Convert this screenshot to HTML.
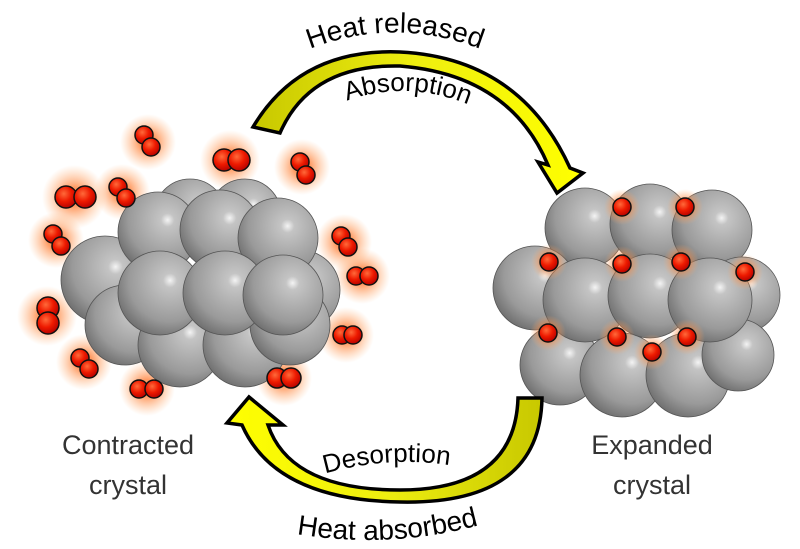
<!DOCTYPE html>
<html><head><meta charset="utf-8"><style>
html,body{margin:0;padding:0;background:#fff;width:800px;height:549px;overflow:hidden}
svg{display:block}
text{font-family:"Liberation Sans",sans-serif}
</style></head><body>
<svg width="800" height="549" viewBox="0 0 800 549" xmlns="http://www.w3.org/2000/svg">
<defs>
<radialGradient id="sph" cx="0.62" cy="0.35" r="0.7">
<stop offset="0" stop-color="#f4f4f4"/><stop offset="0.12" stop-color="#c4c4c4"/><stop offset="0.7" stop-color="#9a9a9a"/><stop offset="1" stop-color="#6e6e6e"/>
</radialGradient>
<radialGradient id="ox" cx="0.4" cy="0.35" r="0.7">
<stop offset="0" stop-color="#ff6a3a"/><stop offset="0.5" stop-color="#ee1a00"/><stop offset="1" stop-color="#b00000"/>
</radialGradient>
<radialGradient id="glow">
<stop offset="0.3" stop-color="#ff7a30" stop-opacity="0.75"/><stop offset="1" stop-color="#ffb070" stop-opacity="0"/>
</radialGradient>
<linearGradient id="y1" x1="0" y1="0" x2="1" y2="0">
<stop offset="0" stop-color="#c8c800"/><stop offset="0.5" stop-color="#eeee10"/><stop offset="1" stop-color="#ffff00"/>
</linearGradient>
<linearGradient id="y2" x1="1" y1="0" x2="0" y2="0">
<stop offset="0" stop-color="#c8c800"/><stop offset="0.5" stop-color="#eeee10"/><stop offset="1" stop-color="#ffff00"/>
</linearGradient>
<path id="tp1" d="M285,60 Q395,5 505,60"/>
<path id="tp2" d="M330,108 Q405,72 485,112"/>
<path id="tp3" d="M310,478 Q390,452 465,468"/>
<path id="tp4" d="M285,532 Q390,552 490,522"/>
</defs>

<!-- left glows -->
<g fill="url(#glow)">
<circle cx="148" cy="142" r="28"/><circle cx="230" cy="160" r="30"/><circle cx="302" cy="167" r="28"/>
<circle cx="74" cy="197" r="32"/><circle cx="122" cy="192" r="28"/><circle cx="56" cy="240" r="28"/>
<circle cx="47" cy="316" r="30"/><circle cx="84" cy="362" r="28"/><circle cx="147" cy="388" r="28"/>
<circle cx="284" cy="378" r="28"/><circle cx="344" cy="242" r="28"/><circle cx="362" cy="276" r="28"/><circle cx="346" cy="335" r="28"/>
</g>
<!-- left crystal -->
<g fill="url(#sph)" stroke="#555" stroke-width="0.8">
<circle cx="190" cy="215" r="36"/><circle cx="245" cy="215" r="36"/>
<circle cx="105" cy="280" r="44"/><circle cx="300" cy="290" r="40"/>
<circle cx="125" cy="325" r="40"/><circle cx="180" cy="345" r="42"/><circle cx="245" cy="345" r="42"/><circle cx="290" cy="325" r="40"/>
<circle cx="158" cy="232" r="40"/><circle cx="220" cy="230" r="40"/><circle cx="278" cy="238" r="40"/>
<circle cx="160" cy="293" r="42"/><circle cx="225" cy="293" r="42"/><circle cx="283" cy="295" r="40"/>
</g>
<!-- left molecules -->
<g fill="url(#ox)" stroke="#111" stroke-width="1.5">
<circle cx="144" cy="135" r="9"/><circle cx="151" cy="147" r="9"/>
<circle cx="224" cy="160" r="11"/><circle cx="239" cy="160" r="11"/>
<circle cx="300" cy="162" r="9"/><circle cx="306" cy="175" r="9"/>
<circle cx="66" cy="197" r="11"/><circle cx="85" cy="197" r="11"/>
<circle cx="118" cy="187" r="9"/><circle cx="126" cy="198" r="9"/>
<circle cx="53" cy="234" r="9"/><circle cx="61" cy="246" r="9"/>
<circle cx="48" cy="308" r="11"/><circle cx="48" cy="323" r="11"/>
<circle cx="80" cy="358" r="9"/><circle cx="89" cy="369" r="9"/>
<circle cx="139" cy="389" r="9"/><circle cx="154" cy="389" r="9"/>
<circle cx="277" cy="378" r="10"/><circle cx="291" cy="378" r="10"/>
<circle cx="341" cy="236" r="9"/><circle cx="348" cy="247" r="9"/>
<circle cx="356" cy="276" r="9"/><circle cx="369" cy="276" r="9"/>
<circle cx="342" cy="335" r="9"/><circle cx="353" cy="335" r="9"/>
</g>

<!-- right crystal -->
<g fill="url(#sph)" stroke="#555" stroke-width="0.8">
<circle cx="585" cy="228" r="40"/><circle cx="650" cy="224" r="40"/><circle cx="712" cy="230" r="40"/>
<circle cx="535" cy="288" r="42"/><circle cx="742" cy="295" r="38"/>
<circle cx="560" cy="365" r="40"/><circle cx="622" cy="375" r="42"/><circle cx="688" cy="375" r="42"/><circle cx="738" cy="355" r="36"/>
<circle cx="585" cy="300" r="42"/><circle cx="650" cy="296" r="42"/><circle cx="710" cy="300" r="42"/>
</g>
<g fill="url(#glow)">
<circle cx="622" cy="207" r="18"/><circle cx="685" cy="207" r="18"/><circle cx="549" cy="262" r="18"/><circle cx="622" cy="264" r="18"/>
<circle cx="681" cy="262" r="18"/><circle cx="745" cy="272" r="18"/><circle cx="548" cy="333" r="18"/><circle cx="617" cy="337" r="18"/>
<circle cx="652" cy="352" r="18"/><circle cx="687" cy="337" r="18"/>
</g>
<g fill="url(#ox)" stroke="#111" stroke-width="1.5">
<circle cx="622" cy="207" r="9"/><circle cx="685" cy="207" r="9"/><circle cx="549" cy="262" r="9"/><circle cx="622" cy="264" r="9"/>
<circle cx="681" cy="262" r="9"/><circle cx="745" cy="272" r="9"/><circle cx="548" cy="333" r="9"/><circle cx="617" cy="337" r="9"/>
<circle cx="652" cy="352" r="9"/><circle cx="687" cy="337" r="9"/>
</g>

<!-- top arrow -->
<path d="M253,127 Q300,48 400,52 Q520,58 570,168 L583,173 L557,193 L538,162 L548,165 Q510,75 400,66 Q310,64 280,133 Z" fill="url(#y1)" stroke="#000" stroke-width="3.5" stroke-linejoin="miter"/>
<!-- bottom arrow -->
<path d="M542,398 Q540,505 400,502 Q275,500 242,425 L227,423 L249,397 L283,425 L268,425 Q290,490 400,490 Q515,490 518,398 Z" fill="url(#y2)" stroke="#000" stroke-width="3.5"/>

<text font-size="28" fill="#000"><textPath href="#tp1" startOffset="50%" text-anchor="middle">Heat released</textPath></text>
<text font-size="26" fill="#000"><textPath href="#tp2" startOffset="50%" text-anchor="middle">Absorption</textPath></text>
<text font-size="26" fill="#000"><textPath href="#tp3" startOffset="50%" text-anchor="middle">Desorption</textPath></text>
<text font-size="28" fill="#000"><textPath href="#tp4" startOffset="50%" text-anchor="middle">Heat absorbed</textPath></text>

<g font-size="27" fill="#333" text-anchor="middle">
<text x="128" y="454">Contracted</text><text x="128" y="494">crystal</text>
<text x="652" y="454">Expanded</text><text x="652" y="494">crystal</text>
</g>
</svg>
</body></html>
